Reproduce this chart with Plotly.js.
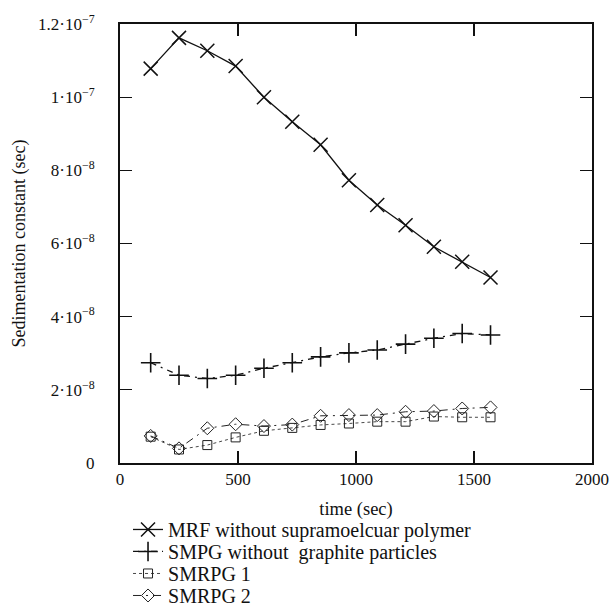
<!DOCTYPE html>
<html><head><meta charset="utf-8">
<script src="https://cdn.plot.ly/plotly-3.0.1.min.js"></script>
<style>html,body{margin:0;padding:0;background:#fff}</style>
</head><body>
<div id="chart" style="width:613px;height:607px"></div>
<script>
const timeSec = [130, 250, 370, 490, 610, 730, 850, 970, 1090, 1210, 1330, 1450, 1570];
const mrf   = [1.078e-7, 1.162e-7, 1.127e-7, 1.085e-7, 1.000e-7, 0.933e-7, 0.870e-7, 0.773e-7, 0.705e-7, 0.650e-7, 0.591e-7, 0.550e-7, 0.507e-7];
const smpg  = [2.74e-8, 2.40e-8, 2.31e-8, 2.40e-8, 2.59e-8, 2.74e-8, 2.90e-8, 3.01e-8, 3.09e-8, 3.25e-8, 3.41e-8, 3.54e-8, 3.50e-8];
const smrpg1 = [0.72e-8, 0.37e-8, 0.49e-8, 0.70e-8, 0.88e-8, 0.96e-8, 1.04e-8, 1.08e-8, 1.13e-8, 1.13e-8, 1.27e-8, 1.25e-8, 1.25e-8];
const smrpg2 = [0.74e-8, 0.40e-8, 0.95e-8, 1.06e-8, 1.01e-8, 1.05e-8, 1.29e-8, 1.31e-8, 1.31e-8, 1.40e-8, 1.42e-8, 1.49e-8, 1.52e-8];
const seriesNames = ['MRF without supramoelcuar polymer', 'SMPG without  graphite particles', 'SMRPG 1', 'SMRPG 2'];
const yTickVals = [0, 2e-8, 4e-8, 6e-8, 8e-8, 1e-7, 1.2e-7];
const yTickText = ['0', '2·10<sup>−8</sup>', '4·10<sup>−8</sup>', '6·10<sup>−8</sup>', '8·10<sup>−8</sup>', '1·10<sup>−7</sup>', '1.2·10<sup>−7</sup>'];
const xTickVals = [0, 500, 1000, 1500, 2000];

const font = 'Liberation Serif, Times New Roman, serif';
const traces = [
  {x: timeSec, y: mrf, name: seriesNames[0], mode: 'lines+markers',
   line: {color: '#111', width: 1.3},
   marker: {symbol: 'x-thin-open', size: 14, color: '#111', line: {width: 1.5, color: '#111'}}},
  {x: timeSec, y: smpg, name: seriesNames[1], mode: 'lines+markers',
   line: {color: '#111', width: 1.3, dash: '6px,5px,2px,5px'},
   marker: {symbol: 'cross-thin-open', size: 14, color: '#111', line: {width: 1.6, color: '#111'}}},
  {x: timeSec, y: smrpg1, name: seriesNames[2], mode: 'lines+markers',
   line: {color: '#333', width: 0.9, dash: 'dot'},
   marker: {symbol: 'square-open', size: 9, color: '#222', line: {width: 1, color: '#222'}}},
  {x: timeSec, y: smrpg2, name: seriesNames[3], mode: 'lines+markers',
   line: {color: '#222', width: 1, dash: '8px,5px,2px,5px'},
   marker: {symbol: 'diamond-open', size: 10, color: '#222', line: {width: 1, color: '#222'}}}
];

const layout = {
  width: 613, height: 607,
  margin: {l: 120, r: 21, t: 24, b: 144, autoexpand: false},
  paper_bgcolor: '#fff', plot_bgcolor: '#fff',
  font: {family: font, size: 17, color: '#111'},
  showlegend: true,
  legend: {x: 0.017, xanchor: 'left', y: -0.107, yanchor: 'top',
           font: {family: font, size: 20, color: '#111'}, tracegroupgap: 0,
           bgcolor: 'rgba(0,0,0,0)'},
  xaxis: {range: [0, 2000], tickvals: xTickVals, ticktext: xTickVals.map(String),
          ticks: 'inside', ticklen: 12, tickwidth: 1.2, tickcolor: '#111',
          showline: true, linewidth: 2, linecolor: '#111', mirror: 'ticks',
          showgrid: false, zeroline: false, automargin: false,
          tickfont: {family: font, size: 17, color: '#111'},
          title: {text: 'time (sec)', font: {family: font, size: 18.5, color: '#111'}, standoff: 14}},
  yaxis: {range: [0, 1.2e-7], tickvals: yTickVals, ticktext: yTickText,
          ticks: 'inside', ticklen: 12, tickwidth: 1.2, tickcolor: '#111',
          showline: true, linewidth: 2, linecolor: '#111', mirror: 'ticks',
          showgrid: false, zeroline: false, automargin: false, ticklabelstandoff: 20,
          tickfont: {family: font, size: 17, color: '#111'},
          title: {text: 'Sedimentation constant (sec)', font: {family: font, size: 18, color: '#111'}, standoff: 8}}
};

Plotly.newPlot('chart', traces, layout, {displayModeBar: false, staticPlot: true}).then(function (gd) {
  // tighten legend row spacing to match the reference
  const items = gd.querySelectorAll('.legend .traces');
  const rowGap = 22;
  let y0 = null;
  items.forEach(function (el, i) {
    const m = /translate\(\s*([-\d.]+)[ ,]+([-\d.]+)\s*\)/.exec(el.getAttribute('transform') || '');
    if (!m) return;
    if (y0 === null) y0 = parseFloat(m[2]);
    el.setAttribute('transform', 'translate(' + m[1] + ',' + (y0 + i * rowGap) + ')');
  });
});
</script>
</body></html>
